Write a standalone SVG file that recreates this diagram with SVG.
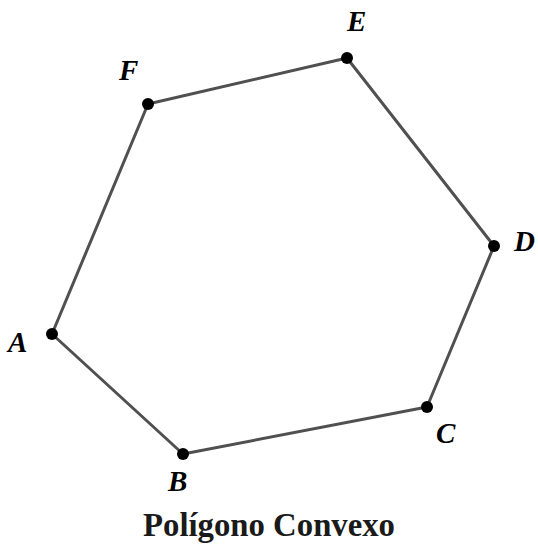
<svg xmlns="http://www.w3.org/2000/svg" width="538" height="544" viewBox="0 0 538 544">
<style>
.edge{stroke:#505050;stroke-width:3;fill:none;stroke-linejoin:round}
.pt{fill:#000}
.lbl{font-family:"Liberation Serif",serif;font-weight:bold;font-style:italic;font-size:29px;fill:#000}
.title{font-family:"Liberation Serif",serif;font-weight:bold;font-size:34px;fill:#1a1a1a}
</style>
<rect width="538" height="544" fill="#fff"/>
<g id="connectors">
<polygon class="edge" points="52,334 183,454 427,407 494,246 347,58 148,104"/>
</g>
<g id="A"><circle class="pt" cx="52" cy="334" r="6"/><text class="lbl" x="8" y="352">A</text></g>
<g id="B"><circle class="pt" cx="183" cy="454" r="6"/><text class="lbl" x="168" y="491">B</text></g>
<g id="C"><circle class="pt" cx="427" cy="407" r="6"/><text class="lbl" x="436" y="443">C</text></g>
<g id="D"><circle class="pt" cx="494" cy="246" r="6"/><text class="lbl" x="514" y="251">D</text></g>
<g id="E"><circle class="pt" cx="347" cy="58" r="6"/><text class="lbl" x="347" y="31">E</text></g>
<g id="F"><circle class="pt" cx="148" cy="104" r="6"/><text class="lbl" x="119" y="80">F</text></g>
<text class="title" x="143" y="536" textLength="252" lengthAdjust="spacingAndGlyphs">Polígono Convexo</text>
</svg>
